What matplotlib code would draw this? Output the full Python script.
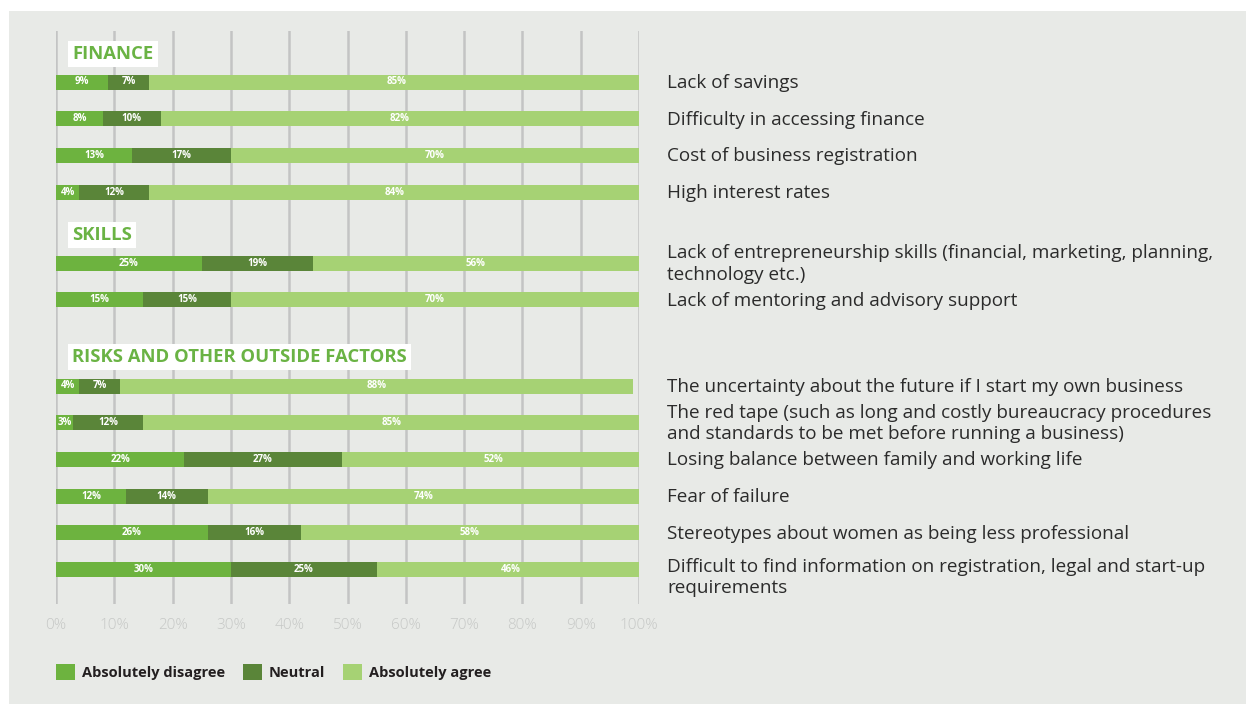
import matplotlib.pyplot as plt
from matplotlib.patches import Patch, Rectangle

plt.rcParams['font.family'] = ['Open Sans', 'DejaVu Sans']

# survey answers, in percent: disagree / neutral / agree
finance_items = ["Lack of savings",
                 "Difficulty in accessing finance",
                 "Cost of business registration",
                 "High interest rates"]
finance_disagree = [9, 8, 13, 4]
finance_neutral = [7, 10, 17, 12]
finance_agree = [85, 82, 70, 84]

skills_items = ["Lack of entrepreneurship skills (financial, marketing, planning,\ntechnology etc.)",
                "Lack of mentoring and advisory support"]
skills_disagree = [25, 15]
skills_neutral = [19, 15]
skills_agree = [56, 70]

risks_items = ["The uncertainty about the future if I start my own business",
               "The red tape (such as long and costly bureaucracy procedures\nand standards to be met before running a business)",
               "Losing balance between family and working life",
               "Fear of failure",
               "Stereotypes about women as being less professional",
               "Difficult to find information on registration, legal and start-up\nrequirements"]
risks_disagree = [4, 3, 22, 12, 26, 30]
risks_neutral = [7, 12, 27, 14, 16, 25]
risks_agree = [88, 85, 52, 74, 58, 46]

groups = ["FINANCE", "SKILLS", "RISKS AND OTHER OUTSIDE FACTORS"]
answers = ["Absolutely disagree", "Neutral", "Absolutely agree"]
ticks = list(range(0, 101, 10))

colors = ['#6db33f', '#5a8539', '#a6d274']
bg = '#e8eae7'

W, H = 1246, 704
fig = plt.figure(figsize=(W / 100, H / 100), dpi=100)
fig.patch.set_facecolor('white')
fig.add_artist(Rectangle((9 / W, 0), 1, 1 - 11 / H, transform=fig.transFigure,
                         facecolor=bg, edgecolor='none', zorder=-10))

# axes in pixel units vertically so the grouped rows are easy to lay out
top, bottom = 31, 604
ax = fig.add_axes([56 / W, 1 - bottom / H, 583 / W, (bottom - top) / H])
ax.set_facecolor('none')
ax.set_xlim(0, 100)
ax.set_ylim(bottom, top)
for s in ax.spines.values():
    s.set_visible(False)
ax.set_yticks([])
ax.set_xticks(ticks)
ax.set_xticklabels([f"{t}%" for t in ticks], color='#c6c8c6', fontsize=11,
                   fontweight='light')
ax.tick_params(axis='x', length=0, pad=10)
ax.grid(axis='x', color='#c3c4c4', lw=1.8, zorder=0)
ax.set_axisbelow(True)

group_data = [
    (finance_items, finance_disagree, finance_neutral, finance_agree),
    (skills_items, skills_disagree, skills_neutral, skills_agree),
    (risks_items, risks_disagree, risks_neutral, risks_agree),
]
group_first_row = [82, 263, 386]
header_y = [54, 235, 357]
step = 36.7
bar_h = 15

for g, (items, dis, neu, agr) in enumerate(group_data):
    ax.text(2.8, header_y[g], groups[g], color='#6ab344', fontsize=13.3,
            fontweight='bold', va='center', ha='left', zorder=5,
            bbox=dict(facecolor='white', edgecolor='none', pad=3))
    for i, item in enumerate(items):
        y = group_first_row[g] + i * step
        left = 0
        for v, c in zip([dis[i], neu[i], agr[i]], colors):
            ax.barh(y, v, left=left, height=bar_h, color=c, zorder=2)
            ax.text(left + v / 2, y, f"{v}%", color='white', fontsize=7,
                    fontweight='bold', ha='center', va='center', zorder=3)
            left += v
        if '\n' in item and 'requirements' in item:
            ax.text(104.8, y - 12, item, fontsize=13.6, color='#2b2b2b',
                    va='top', ha='left', clip_on=False, linespacing=1.22)
        else:
            ax.text(104.8, y + 1, item, fontsize=13.6, color='#2b2b2b',
                    va='center', ha='left', clip_on=False, linespacing=1.22)

handles = [Patch(facecolor=c, edgecolor='none') for c in colors]
leg = fig.legend(handles, answers, loc='center left',
                 bbox_to_anchor=(56 / W, 1 - 672 / H), ncol=3, frameon=False,
                 borderaxespad=0, borderpad=0, handlelength=1.3,
                 handleheight=1.3, handletextpad=0.5, columnspacing=1.2,
                 prop=dict(weight='bold', size=10.5))
for t in leg.get_texts():
    t.set_color('#231f20')

fig.savefig('out.png', dpi=100, facecolor=fig.get_facecolor())
